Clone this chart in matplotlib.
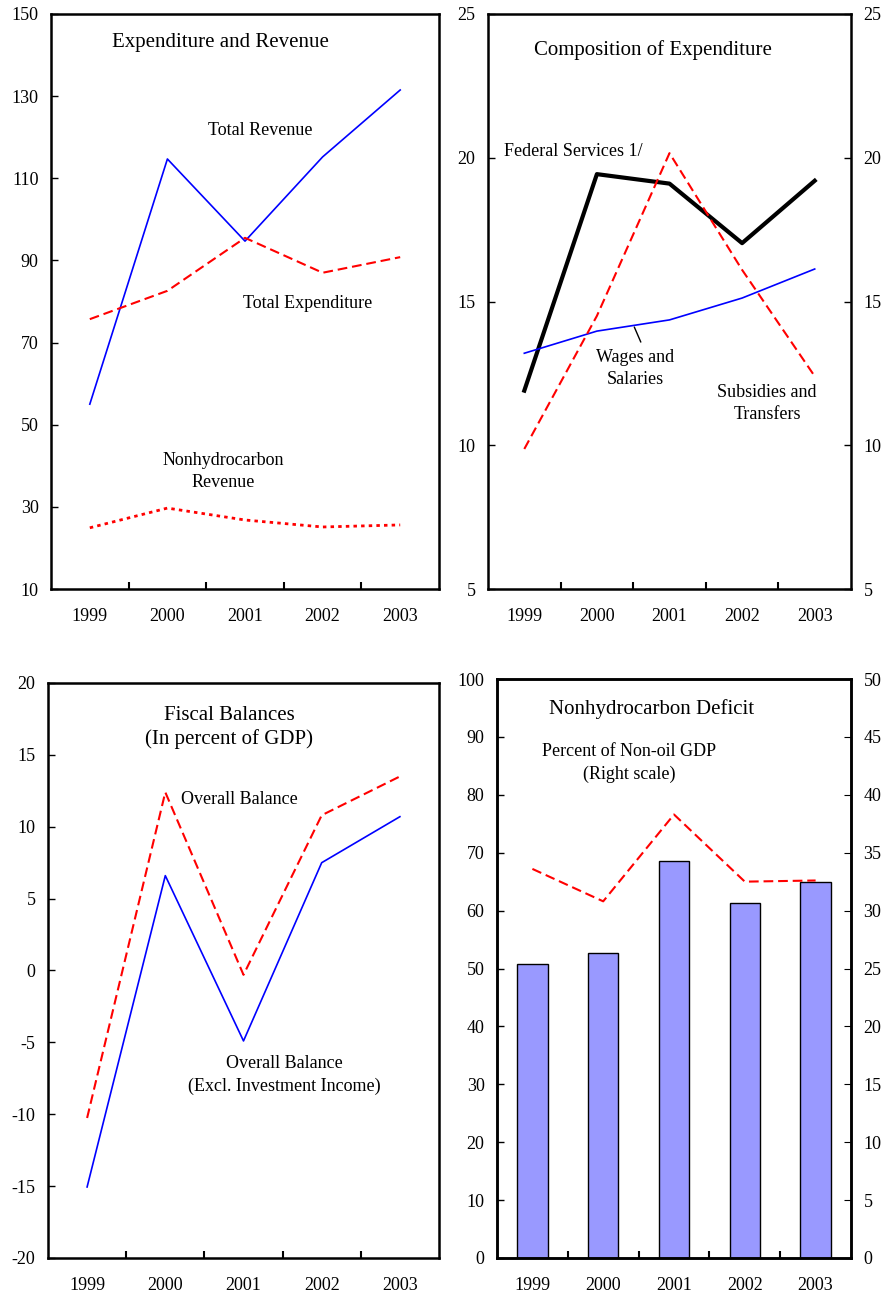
import matplotlib
matplotlib.use('Agg')
import matplotlib.pyplot as plt
import numpy as np

plt.rcParams['font.family'] = ['Liberation Serif', 'DejaVu Serif']
plt.rcParams['lines.scale_dashes'] = False
plt.rcParams['axes.unicode_minus'] = False

years = ['1999', '2000', '2001', '2002', '2003']

# Expenditure and Revenue
total_revenue = [55.0, 114.7, 94.7, 115.2, 131.5]
total_expenditure = [75.7, 82.6, 95.5, 87.0, 90.8]
nonhydro_revenue = [24.9, 29.7, 26.8, 25.1, 25.6]

# Composition of Expenditure
federal_services = [11.9, 19.43, 19.1, 17.03, 19.2]
wages_salaries = [13.2, 13.97, 14.36, 15.12, 16.13]
subsidies_transfers = [9.87, 14.5, 20.16, 16.1, 12.4]

# Fiscal Balances
overall_balance = [-10.26, 12.4, -0.3, 10.8, 13.5]
overall_excl_inv = [-15.06, 6.6, -4.9, 7.5, 10.7]

# Nonhydrocarbon Deficit
deficit_level = [50.8, 52.7, 68.6, 61.3, 64.9]
deficit_pct_gdp = [33.6, 30.8, 38.3, 32.5, 32.6]

W, H = 886, 1296
fig = plt.figure(figsize=(W / 100, H / 100), dpi=100)

TICK_FS = 13
TITLE_FS = 15
NOTE_FS = 13


def add_panel(left, right, top, bottom):
    return fig.add_axes([left / W, 1 - bottom / H, (right - left) / W, (bottom - top) / H])


def style(ax, ylim, yticks, right_labels=False):
    x = np.arange(len(years))
    ax.set_xlim(-0.5, len(years) - 0.5)
    ax.set_xticks(x)
    ax.set_xticklabels(years)
    ax.set_xticks(x[:-1] + 0.5, minor=True)
    ax.tick_params(axis='x', which='major', length=0, pad=14, labelsize=TICK_FS)
    ax.tick_params(axis='x', which='minor', direction='in', length=5, width=1.5)
    ax.set_ylim(*ylim)
    ax.set_yticks(yticks)
    ax.tick_params(axis='y', direction='in', length=5, width=1, pad=9, labelsize=TICK_FS,
                   right=right_labels, labelright=right_labels)
    for s in ax.spines.values():
        s.set_linewidth(1.8)


x = np.arange(len(years))

# Panel 1
ax1 = add_panel(51, 439, 14, 589)
ax1.plot(x, total_revenue, color='#0000FF', lw=1.2)
ax1.plot(x, total_expenditure, color='#FF0000', lw=1.5, dashes=(7, 3.5))
ax1.plot(x, nonhydro_revenue, color='#FF0000', lw=2, dashes=(2.5, 3))
style(ax1, (10, 150), range(10, 151, 20))
ax1.text(0.436, 0.951, 'Expenditure and Revenue', transform=ax1.transAxes,
         ha='center', va='center', fontsize=TITLE_FS)
ax1.text(0.539, 0.798, 'Total Revenue', transform=ax1.transAxes,
         ha='center', va='center', fontsize=NOTE_FS)
ax1.text(0.662, 0.497, 'Total Expenditure', transform=ax1.transAxes,
         ha='center', va='center', fontsize=NOTE_FS)
ax1.text(0.443, 0.205, 'Nonhydrocarbon\nRevenue', transform=ax1.transAxes,
         ha='center', va='center', fontsize=NOTE_FS, linespacing=1.4)

# Panel 2
ax2 = add_panel(488, 851, 14, 589)
ax2.plot(x, federal_services, color='black', lw=3)
ax2.plot(x, wages_salaries, color='#0000FF', lw=1.2)
ax2.plot(x, subsidies_transfers, color='#FF0000', lw=1.5, dashes=(7, 3.5))
style(ax2, (5, 25), range(5, 26, 5), right_labels=True)
ax2.text(0.455, 0.937, 'Composition of Expenditure', transform=ax2.transAxes,
         ha='center', va='center', fontsize=TITLE_FS)
ax2.text(0.044, 0.76, 'Federal Services 1/', transform=ax2.transAxes,
         ha='left', va='center', fontsize=NOTE_FS)
ax2.text(0.405, 0.384, 'Wages and\nSalaries', transform=ax2.transAxes,
         ha='center', va='center', fontsize=NOTE_FS, linespacing=1.4)
ax2.text(0.769, 0.323, 'Subsidies and\nTransfers', transform=ax2.transAxes,
         ha='center', va='center', fontsize=NOTE_FS, linespacing=1.4)
ax2.annotate('', xy=(1.5, 14.2), xytext=(1.62, 13.5),
             arrowprops=dict(arrowstyle='-', color='black', lw=1))

# Panel 3
ax3 = add_panel(48, 439, 683, 1258)
ax3.plot(x, overall_balance, color='#FF0000', lw=1.5, dashes=(7, 3.5))
ax3.plot(x, overall_excl_inv, color='#0000FF', lw=1.2)
style(ax3, (-20, 20), range(-20, 21, 5))
ax3.text(0.463, 0.923, 'Fiscal Balances\n(In percent of GDP)', transform=ax3.transAxes,
         ha='center', va='center', fontsize=TITLE_FS, linespacing=1.3)
ax3.text(0.34, 0.797, 'Overall Balance', transform=ax3.transAxes,
         ha='left', va='center', fontsize=NOTE_FS)
ax3.text(0.604, 0.318, 'Overall Balance\n(Excl. Investment Income)', transform=ax3.transAxes,
         ha='center', va='center', fontsize=NOTE_FS, linespacing=1.4)

# Panel 4
ax4 = add_panel(497, 851, 679, 1258)
ax4.bar(x, deficit_level, width=0.43, color='#9999FF', edgecolor='black', lw=1)
style(ax4, (0, 100), range(0, 101, 10))
ax4r = ax4.twinx()
ax4r.plot(x, deficit_pct_gdp, color='#FF0000', lw=1.5, dashes=(7, 3.5))
ax4r.set_ylim(0, 50)
ax4r.set_yticks(range(0, 51, 5))
ax4r.tick_params(axis='y', direction='in', length=5, pad=9, labelsize=TICK_FS)
for s in ax4r.spines.values():
    s.set_linewidth(1.8)
ax4.text(0.438, 0.948, 'Nonhydrocarbon Deficit', transform=ax4.transAxes,
         ha='center', va='center', fontsize=TITLE_FS)
ax4.text(0.373, 0.855, 'Percent of Non-oil GDP\n(Right scale)', transform=ax4.transAxes,
         ha='center', va='center', fontsize=NOTE_FS, linespacing=1.4)

fig.savefig('out.png', dpi=100)
